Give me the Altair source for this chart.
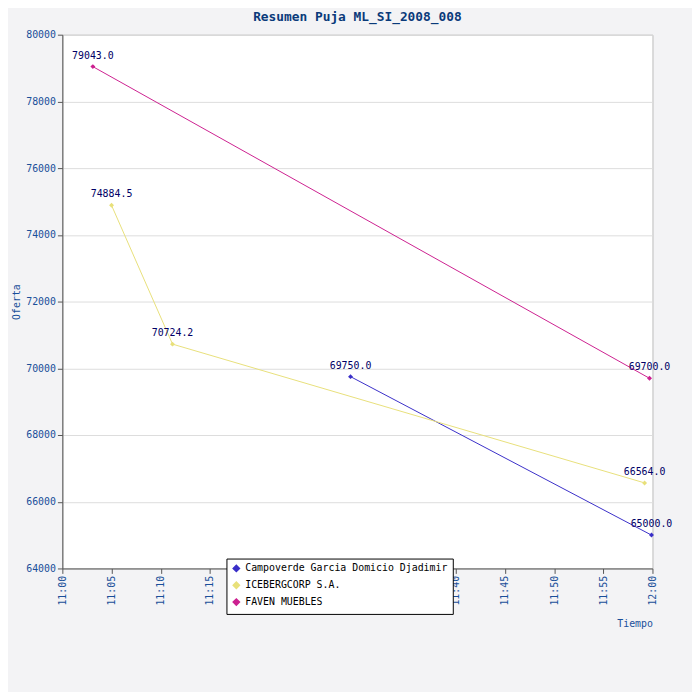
import altair as alt
import pandas as pd

series = ["Campoverde Garcia Domicio Djadimir", "ICEBERGCORP S.A.", "FAVEN MUEBLES"]
colors = ["#3a2fc8", "#e8e07a", "#cc2090"]

camp_min = [29.3, 59.9]
camp_val = [69750.0, 65000.0]
ice_min = [5.0, 11.2, 59.2]
ice_val = [74884.5, 70724.2, 66564.0]
fav_min = [3.1, 59.7]
fav_val = [79043.0, 69700.0]

rows = []
for name, mins, vals in [(series[0], camp_min, camp_val), (series[1], ice_min, ice_val), (series[2], fav_min, fav_val)]:
    for m, v in zip(mins, vals):
        rows.append({"serie": name, "min": m, "oferta": v})
df = pd.DataFrame(rows)

font = "DejaVu Sans Mono"
x = alt.X("min:Q", scale=alt.Scale(domain=[0, 60], nice=False),
          axis=alt.Axis(values=list(range(0, 61, 5)), labelAngle=-90, labelAlign="right",
                        labelBaseline="middle",
                        labelExpr="datum.value == 60 ? '12:00' : '11:' + (datum.value < 10 ? '0' : '') + datum.value",
                        grid=False, title="Tiempo", titleAnchor="end", titlePadding=14,
                        titleFontWeight="normal"))
y = alt.Y("oferta:Q", scale=alt.Scale(domain=[64000, 80000], nice=False),
          axis=alt.Axis(values=list(range(64000, 80001, 2000)), format="d", title="Oferta",
                        gridColor="#dddddd", titleFontWeight="normal", titlePadding=4))
color = alt.Color("serie:N", scale=alt.Scale(domain=series, range=colors),
                  legend=alt.Legend(title=None, orient="none", legendX=166, legendY=530,
                                    symbolType="diamond", symbolSize=40, strokeColor="black",
                                    fillColor="white", padding=5, labelColor="black",
                                    labelFont=font, labelFontSize=10, rowPadding=3, labelLimit=300))

base = alt.Chart(df).encode(x=x, y=y)
lines = base.mark_line(strokeWidth=1).encode(color=color, detail="serie:N")
pts = base.mark_point(shape="diamond", filled=True, size=25, opacity=1).encode(color=alt.Color("serie:N", scale=alt.Scale(domain=series, range=colors), legend=None))
labels = base.mark_text(dy=-11, font=font, fontSize=10, color="#000066").encode(text=alt.Text("oferta:Q", format=".1f"))

chart = alt.layer(lines, pts, labels).properties(
    width=597, height=540,
    autosize=alt.AutoSizeParams(type="none"),
    padding={"left": 55, "top": 23, "right": 40, "bottom": 121},
    background="#f3f3f5",
    title=alt.TitleParams("Resumen Puja ML_SI_2008_008", font=font, fontSize=13, color="#0a3a7a",
                          fontWeight="bold", offset=6),
).configure_view(fill="white", stroke="#bbbbbb").configure_axis(
    labelFont=font, titleFont=font, labelFontSize=10, titleFontSize=10,
    labelColor="#1a4f9a", titleColor="#1a4f9a", domainColor="#555555", tickColor="#555555"
)

chart.save("out.html", embed_options={"renderer": "svg", "actions": False})
